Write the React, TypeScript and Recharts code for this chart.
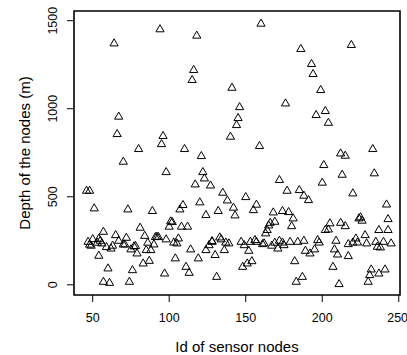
import { ScatterChart, Scatter, XAxis, YAxis, ReferenceArea } from "recharts";

// node id and depth
const nodeIds = [
  46, 47, 48, 48, 49, 50, 51, 53, 54, 54, 55, 56, 57, 57, 59, 60, 61, 62, 63, 64,
  65, 66, 67, 67, 70, 70, 72, 71, 73, 74, 75, 76, 77, 78, 79, 80, 81, 83, 84, 85,
  86, 87, 88, 89, 90, 91, 92, 93, 94, 95, 96, 97, 98, 98, 100, 101, 102, 103, 104, 105,
  106, 107, 108, 109, 110, 111, 112, 113, 114, 115, 116, 117, 118, 119, 120, 121, 122, 123, 124, 124,
  126, 127, 128, 128, 130, 131, 132, 133, 134, 135, 136, 137, 138, 139, 140, 141, 142, 143, 144, 145,
  146, 147, 148, 149, 150, 151, 152, 153, 154, 155, 156, 157, 157, 159, 160, 161, 162, 163, 164, 165,
  166, 167, 168, 169, 169, 171, 172, 172, 174, 174, 175, 176, 177, 178, 179, 180, 181, 182, 183, 184,
  185, 186, 187, 188, 188, 189, 191, 192, 193, 194, 195, 196, 197, 198, 199, 200, 201, 202, 202, 204,
  204, 205, 207, 208, 209, 210, 211, 212, 212, 213, 215, 215, 217, 217, 219, 220, 220, 222, 223, 224,
  225, 226, 228, 229, 230, 231, 232, 233, 234, 235, 236, 237, 237, 238, 240, 241, 242, 243, 243, 245,
];
const depths = [
  534, 244, 534, 228, 222, 259, 434, 239, 261, 165, 250, 235, 301, 17, 214, 93, 11, 206, 222, 1371,
  282, 856, 955, 250, 699, 229, 267, 229, 428, 17, 201, 83, 218, 220, 178, 771, 324, 121, 278, 197,
  239, 136, 197, 419, 229, 271, 273, 271, 1451, 799, 845, 64, 640, 258, 330, 360, 356, 240, 150, 235,
  263, 428, 330, 453, 771, 102, 330, 68, 201, 1163, 1220, 570, 1415, 150, 468, 731, 640, 604, 396, 197,
  225, 564, 248, 244, 169, 45, 419, 269, 258, 523, 197, 240, 479, 235, 841, 1119, 438, 394, 907, 947,
  1009, 244, 102, 225, 498, 121, 193, 244, 134, 424, 254, 455, 244, 788, 1483, 231, 235, 292, 311, 337,
  352, 222, 411, 358, 239, 206, 595, 250, 419, 240, 225, 1030, 534, 413, 244, 333, 377, 134, 17, 244,
  538, 1339, 45, 250, 506, 193, 481, 178, 1254, 1197, 201, 964, 254, 240, 1106, 580, 680, 987, 311, 920,
  314, 349, 102, 201, 250, 172, 4, 352, 746, 625, 733, 333, 163, 231, 1362, 240, 519, 263, 240, 377,
  383, 364, 282, 235, 17, 55, 87, 771, 633, 244, 216, 311, 64, 212, 244, 87, 456, 311, 373, 235,
];

const xTicks = [50, 100, 150, 200, 250];
const yTicks = [0, 500, 1000, 1500];
const xDomain = [37.8, 250.8];
const yDomain = [-58, 1555];

const data = nodeIds.map((id, i) => ({ id, depth: depths[i] }));

const font = "'Liberation Sans', Arial, Helvetica, sans-serif";

const Triangle = (props: any) => {
  const { cx, cy } = props;
  if (cx == null || cy == null) return null;
  const pts = `${cx},${cy - 4.6} ${cx - 4.1},${cy + 2.5} ${cx + 4.1},${cy + 2.5}`;
  return <polygon points={pts} fill="none" stroke="#000" strokeWidth={1} />;
};

const YTick = (props: any) => {
  const { x, y, payload } = props;
  const tx = x - 8;
  return (
    <text
      x={tx}
      y={y}
      transform={`rotate(-90, ${tx}, ${y})`}
      textAnchor="middle"
      fontSize={12.5}
      fontFamily={font}
      fill="#000"
    >
      {payload.value}
    </text>
  );
};

const YTitle = (props: any) => {
  const { viewBox } = props;
  const tx = viewBox.x + 30;
  const ty = viewBox.y + viewBox.height / 2;
  return (
    <text
      x={tx}
      y={ty}
      transform={`rotate(-90, ${tx}, ${ty})`}
      textAnchor="middle"
      fontSize={15}
      fontFamily={font}
      fill="#000"
    >
      Depth of the nodes (m)
    </text>
  );
};

export default function App() {
  return (
    <div style={{ position: "absolute", left: 0, top: 0, background: "#fff" }}>
      <ScatterChart
        width={407}
        height={355}
        margin={{ top: 11, right: 7, left: 0, bottom: 0 }}
      >
        <XAxis
          type="number"
          dataKey="id"
          domain={xDomain}
          ticks={xTicks}
          allowDataOverflow
          height={60}
          axisLine={false}
          tickSize={7}
          tickMargin={11}
          tickLine={{ stroke: "#000" }}
          tick={{ fill: "#000", fontSize: 12.5, fontFamily: font }}
          label={{
            value: "Id of sensor nodes",
            position: "insideBottom",
            offset: 3,
            fill: "#000",
            fontSize: 15,
            fontFamily: font,
          }}
        />
        <YAxis
          type="number"
          dataKey="depth"
          domain={yDomain}
          ticks={yTicks}
          allowDataOverflow
          width={74}
          axisLine={false}
          tickSize={7}
          tickMargin={2}
          tickLine={{ stroke: "#000" }}
          tick={<YTick />}
          label={<YTitle />}
        />
        <Scatter
          data={data}
          shape={<Triangle />}
          isAnimationActive={false}
        />
        <ReferenceArea
          x1={xDomain[0]}
          x2={xDomain[1]}
          y1={yDomain[0]}
          y2={yDomain[1]}
          fill="none"
          stroke="#000"
          strokeWidth={1.6}
          ifOverflow="visible"
        />
      </ScatterChart>
    </div>
  );
}
